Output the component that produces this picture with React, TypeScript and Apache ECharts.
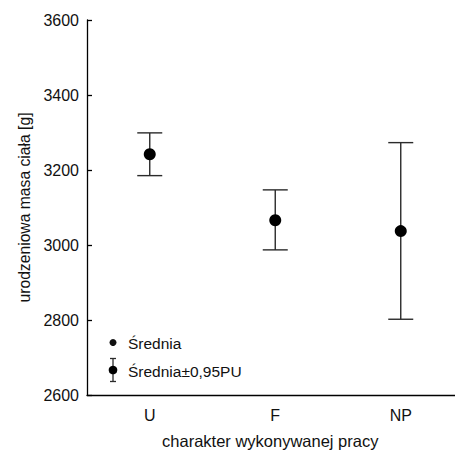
import React, { useEffect, useRef } from "react";
import * as echarts from "echarts";

// Work type groups on the x axis
const categories = ["U", "F", "NP"];
// Mean birth weight per group [g]
const means = [3242, 3066, 3037];
// Mean ± 0.95 confidence interval bounds [g]
const lowerBounds = [3185, 2987, 2802];
const upperBounds = [3299, 3147, 3273];
// Value axis ticks
const yMin = 2600;
const yMax = 3600;
const yStep = 200;

const FONT = "Liberation Sans, Arial, sans-serif";
const BAR_COLOR = "#2b2b2b";

export default function App() {
  const ref = useRef<HTMLDivElement>(null);

  useEffect(() => {
    if (!ref.current) return;
    const chart = echarts.init(ref.current, null, { renderer: "svg" });

    const errorData = categories.map((_, i) => [i, lowerBounds[i], upperBounds[i]]);
    const meanData = categories.map((_, i) => [i, means[i]]);

    chart.setOption({
      animation: false,
      backgroundColor: "#ffffff",
      textStyle: { fontFamily: FONT },
      grid: {
        left: 87,
        top: 20,
        width: 376.5,
        height: 375,
        outerBoundsMode: "none",
        containLabel: false,
      },
      xAxis: {
        type: "category",
        data: categories,
        boundaryGap: true,
        name: "charakter wykonywanej pracy",
        nameLocation: "middle",
        nameGap: 37,
        nameTextStyle: { fontSize: 16.5, color: "#111", fontFamily: FONT, padding: [0, 10, 0, 0] },
        axisLine: { lineStyle: { color: "#000", width: 1.3 } },
        axisTick: { inside: true, length: 5, alignWithLabel: true, lineStyle: { color: "#000", width: 1.3 } },
        axisLabel: { fontSize: 16, color: "#111", margin: 12, fontFamily: FONT },
        splitLine: { show: false },
      },
      yAxis: {
        type: "value",
        min: yMin,
        max: yMax,
        interval: yStep,
        name: "urodzeniowa masa ciała [g]",
        nameLocation: "middle",
        nameGap: 55,
        nameTextStyle: { fontSize: 15.7, color: "#111", fontFamily: FONT },
        axisLine: { show: true, lineStyle: { color: "#000", width: 1.3 } },
        axisTick: { show: true, inside: true, length: 5, lineStyle: { color: "#000", width: 1.3 } },
        axisLabel: {
          fontSize: 16,
          color: "#111",
          margin: 8,
          fontFamily: FONT,
          formatter: (v: number) => String(v),
        },
        splitLine: { show: false },
      },
      series: [
        {
          name: "Średnia±0,95PU",
          type: "custom",
          data: errorData,
          renderItem: (params: any, api: any) => {
            const x = api.value(0);
            const top = api.coord([x, api.value(2)]);
            const bottom = api.coord([x, api.value(1)]);
            const half = 12.5;
            const style = { stroke: BAR_COLOR, lineWidth: 1.4, fill: "none" };
            return {
              type: "group",
              children: [
                { type: "line", shape: { x1: top[0], y1: top[1], x2: bottom[0], y2: bottom[1] }, style },
                { type: "line", shape: { x1: top[0] - half, y1: top[1], x2: top[0] + half, y2: top[1] }, style },
                { type: "line", shape: { x1: bottom[0] - half, y1: bottom[1], x2: bottom[0] + half, y2: bottom[1] }, style },
              ],
            };
          },
          z: 2,
        },
        {
          name: "Średnia",
          type: "scatter",
          data: meanData,
          symbol: "circle",
          symbolSize: 12,
          itemStyle: { color: "#000", opacity: 1 },
          z: 3,
        },
      ],
      graphic: [
        // legend: mean marker
        { type: "circle", shape: { cx: 113, cy: 342.5, r: 3.5 }, style: { fill: "#111" } },
        {
          type: "text",
          x: 128,
          y: 343,
          style: { text: "Średnia", fontSize: 15.5, fill: "#111", fontFamily: FONT, verticalAlign: "middle" },
        },
        // legend: mean with interval marker
        { type: "line", shape: { x1: 113, y1: 358.5, x2: 113, y2: 381.5 }, style: { stroke: BAR_COLOR, lineWidth: 1.3 } },
        { type: "line", shape: { x1: 110, y1: 358.5, x2: 116, y2: 358.5 }, style: { stroke: BAR_COLOR, lineWidth: 1.3 } },
        { type: "line", shape: { x1: 110, y1: 381.5, x2: 116, y2: 381.5 }, style: { stroke: BAR_COLOR, lineWidth: 1.3 } },
        { type: "circle", shape: { cx: 113, cy: 370, r: 4.3 }, style: { fill: "#000" } },
        {
          type: "text",
          x: 128,
          y: 371,
          style: { text: "Średnia±0,95PU", fontSize: 15.5, fill: "#111", fontFamily: FONT, verticalAlign: "middle" },
        },
      ],
    });

    return () => chart.dispose();
  }, []);

  return (
    <div
      ref={ref}
      style={{ position: "fixed", left: 0, top: 0, width: 455, height: 455, background: "#fff" }}
    />
  );
}
